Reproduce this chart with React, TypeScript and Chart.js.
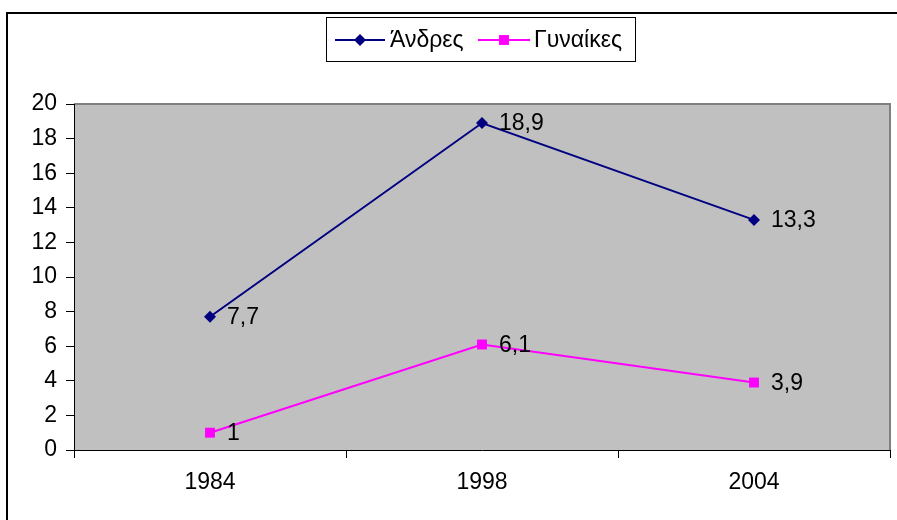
import React, { useEffect, useRef } from "react";
import { Chart, registerables } from "chart.js";

Chart.register(...registerables);

const categories = ["1984", "1998", "2004"];
const menValues = [7.7, 18.9, 13.3];
const womenValues = [1, 6.1, 3.9];
const seriesNames = ["Άνδρες", "Γυναίκες"];
const yTicks = [0, 2, 4, 6, 8, 10, 12, 14, 16, 18, 20];

const NAVY = "#000080";
const MAGENTA = "#FF00FF";
const FONT = "Liberation Sans, Arial, sans-serif";

const fmt = (v: number) => String(v).replace(".", ",");

const framePlugin = {
  id: "frame",
  beforeDraw(chart: any) {
    const { ctx, chartArea: a } = chart;
    ctx.save();
    ctx.fillStyle = "#ffffff";
    ctx.fillRect(0, 0, chart.width, chart.height);
    ctx.fillStyle = "#C0C0C0";
    ctx.fillRect(a.left, a.top, a.right - a.left, a.bottom - a.top);
    ctx.strokeStyle = "#808080";
    ctx.lineWidth = 2;
    ctx.beginPath();
    ctx.moveTo(a.left, a.top);
    ctx.lineTo(a.right, a.top);
    ctx.lineTo(a.right, a.bottom);
    ctx.stroke();
    // outer frame
    ctx.strokeStyle = "#000000";
    ctx.lineWidth = 2;
    ctx.strokeRect(7, 13, 900, 520);
    ctx.restore();
  },
  afterDatasetsDraw(chart: any) {
    const { ctx } = chart;
    ctx.save();
    ctx.font = `23px ${FONT}`;
    ctx.fillStyle = "#000000";
    ctx.textBaseline = "middle";
    ctx.textAlign = "left";
    chart.data.datasets.forEach((ds: any, i: number) => {
      const meta = chart.getDatasetMeta(i);
      meta.data.forEach((pt: any, j: number) => {
        ctx.fillText(fmt(ds.data[j]), pt.x + 17, pt.y + 1);
      });
    });
    // legend
    const bx = 326, by = 17, bw = 309, bh = 44;
    ctx.strokeStyle = "#000000";
    ctx.lineWidth = 1;
    ctx.strokeRect(bx + 0.5, by + 0.5, bw, bh);
    const cy = 40;
    const items = [
      { x1: 335, x2: 385, color: NAVY, style: "rectRot", r: 6, tx: 390, text: seriesNames[0] },
      { x1: 478, x2: 530, color: MAGENTA, style: "rect", r: 7, tx: 534, text: seriesNames[1] },
    ];
    items.forEach((it) => {
      ctx.strokeStyle = it.color;
      ctx.lineWidth = 2;
      ctx.beginPath();
      ctx.moveTo(it.x1, cy);
      ctx.lineTo(it.x2, cy);
      ctx.stroke();
      ctx.fillStyle = it.color;
      const mx = (it.x1 + it.x2) / 2;
      if (it.style === "rectRot") {
        ctx.beginPath();
        ctx.moveTo(mx, cy - it.r);
        ctx.lineTo(mx + it.r, cy);
        ctx.lineTo(mx, cy + it.r);
        ctx.lineTo(mx - it.r, cy);
        ctx.closePath();
        ctx.fill();
      } else {
        const s = it.r * Math.SQRT1_2;
        ctx.fillRect(mx - s, cy - s, 2 * s, 2 * s);
      }
      ctx.fillStyle = "#000000";
      ctx.fillText(it.text, it.tx, cy + 1);
    });
    ctx.restore();
  },
};

export default function App() {
  const ref = useRef<HTMLCanvasElement | null>(null);
  useEffect(() => {
    if (!ref.current) return;
    const chart = new Chart(ref.current, {
      type: "line",
      data: {
        labels: categories,
        datasets: [
          {
            label: seriesNames[0],
            data: menValues,
            borderColor: NAVY,
            backgroundColor: NAVY,
            borderWidth: 2,
            pointStyle: "rectRot",
            pointRadius: 6,
            pointBorderWidth: 0,
            tension: 0,
          },
          {
            label: seriesNames[1],
            data: womenValues,
            borderColor: MAGENTA,
            backgroundColor: MAGENTA,
            borderWidth: 2,
            pointStyle: "rect",
            pointRadius: 7,
            pointBorderWidth: 0,
            tension: 0,
          },
        ],
      },
      options: {
        animation: false,
        responsive: false,
        maintainAspectRatio: false,
        layout: { padding: { top: 104, right: 4, left: 0, bottom: 0 } },
        plugins: { legend: { display: false }, tooltip: { enabled: false } },
        scales: {
          x: {
            type: "category",
            offset: true,
            grid: {
              offset: true,
              drawOnChartArea: false,
              tickLength: 8,
              tickColor: "#000000",
              tickWidth: 1,
            },
            border: { color: "#000000", width: 1 },
            ticks: { color: "#000000", font: { family: FONT, size: 23 }, padding: 11, maxRotation: 0 },
            afterFit(scale: any) {
              scale.height = 70;
            },
          },
          y: {
            min: 0,
            max: 20,
            afterBuildTicks(scale: any) {
              scale.ticks = yTicks.map((v) => ({ value: v }));
            },
            grid: {
              drawOnChartArea: false,
              tickLength: 8,
              tickColor: "#000000",
              tickWidth: 1,
            },
            border: { color: "#000000", width: 1 },
            ticks: { color: "#000000", font: { family: FONT, size: 23 }, padding: 9 },
            afterFit(scale: any) {
              scale.width = 74;
            },
          },
        },
      },
      plugins: [framePlugin],
    } as any);
    return () => chart.destroy();
  }, []);
  return (
    <div style={{ position: "fixed", left: 0, top: 0, width: 897, height: 520 }}>
      <canvas ref={ref} width={897} height={520} style={{ width: 897, height: 520 }} />
    </div>
  );
}
